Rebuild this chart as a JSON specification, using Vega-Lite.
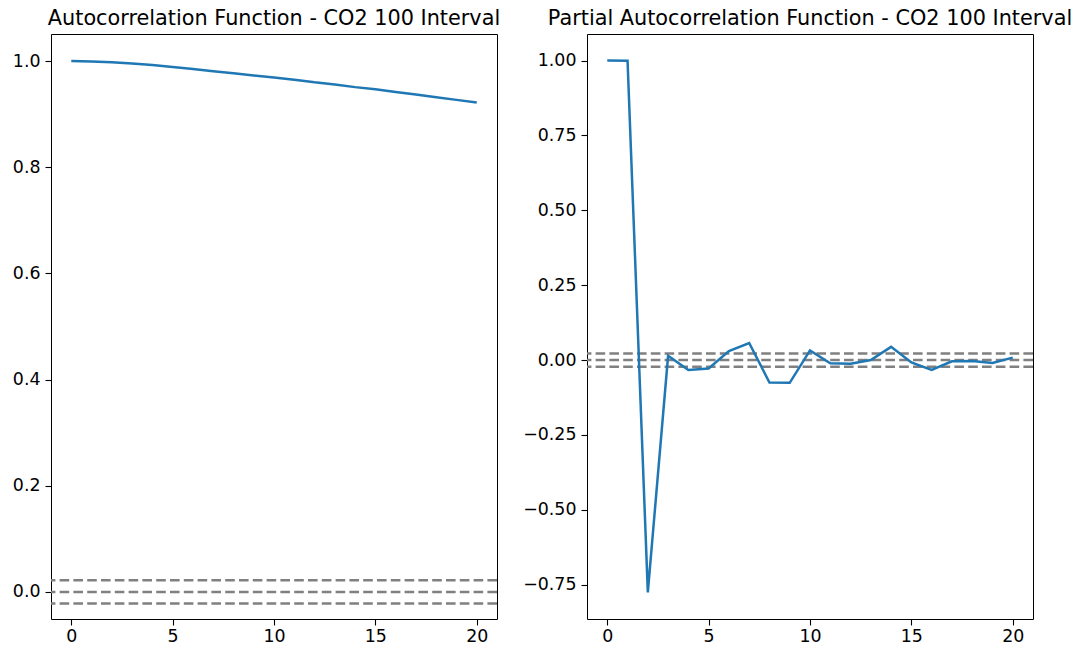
{
  "$schema": "https://vega.github.io/schema/vega-lite/v6.json",
  "background": "white",
  "padding": {"left": 11, "top": 7, "right": 5, "bottom": 5},
  "config": {
    "font": "DejaVu Sans",
    "view": {"stroke": "black", "strokeWidth": 1},
    "axis": {
      "grid": false,
      "domain": false,
      "ticks": true,
      "tickColor": "black",
      "tickSize": 6,
      "tickWidth": 1.1,
      "labelFont": "DejaVu Sans",
      "labelFontSize": 17.4,
      "labelColor": "black",
      "labelPadding": 5,
      "title": null
    },
    "axisX": {"labelPadding": 2},
    "title": {
      "font": "DejaVu Sans",
      "fontSize": 20.8,
      "fontWeight": "normal",
      "color": "black",
      "offset": 4,
      "anchor": "middle"
    }
  },
  "datasets": {
    "acf": [
      {"lag": 0, "value": 1.0},
      {"lag": 1, "value": 0.9995},
      {"lag": 2, "value": 0.998},
      {"lag": 3, "value": 0.9955},
      {"lag": 4, "value": 0.9925},
      {"lag": 5, "value": 0.989},
      {"lag": 6, "value": 0.985},
      {"lag": 7, "value": 0.981},
      {"lag": 8, "value": 0.977},
      {"lag": 9, "value": 0.973},
      {"lag": 10, "value": 0.969},
      {"lag": 11, "value": 0.965},
      {"lag": 12, "value": 0.96},
      {"lag": 13, "value": 0.956},
      {"lag": 14, "value": 0.951},
      {"lag": 15, "value": 0.947},
      {"lag": 16, "value": 0.942},
      {"lag": 17, "value": 0.937},
      {"lag": 18, "value": 0.932},
      {"lag": 19, "value": 0.927},
      {"lag": 20, "value": 0.922}
    ],
    "pacf": [
      {"lag": 0, "value": 1.0},
      {"lag": 1, "value": 0.9998},
      {"lag": 2, "value": -0.776},
      {"lag": 3, "value": 0.014},
      {"lag": 4, "value": -0.033},
      {"lag": 5, "value": -0.028},
      {"lag": 6, "value": 0.03},
      {"lag": 7, "value": 0.057},
      {"lag": 8, "value": -0.075},
      {"lag": 9, "value": -0.076},
      {"lag": 10, "value": 0.032},
      {"lag": 11, "value": -0.011},
      {"lag": 12, "value": -0.012},
      {"lag": 13, "value": 0.0},
      {"lag": 14, "value": 0.044},
      {"lag": 15, "value": -0.008},
      {"lag": 16, "value": -0.033},
      {"lag": 17, "value": -0.004},
      {"lag": 18, "value": -0.003},
      {"lag": 19, "value": -0.01},
      {"lag": 20, "value": 0.008}
    ],
    "bounds": [
      {"level": 0.022},
      {"level": 0.0},
      {"level": -0.022}
    ]
  },
  "bounds": "flush",
  "spacing": 90,
  "hconcat": [
    {
      "title": "Autocorrelation Function - CO2 100 Interval",
      "width": 446,
      "height": 585,
      "layer": [
        {
          "data": {"name": "bounds"},
          "mark": {"type": "rule", "color": "#808080", "strokeWidth": 2.5, "strokeDash": [9.6, 4.2]},
          "encoding": {
            "y": {"field": "level", "type": "quantitative", "scale": {"domain": [-0.0511, 1.0511], "nice": false, "zero": false}}
          }
        },
        {
          "data": {"name": "acf"},
          "mark": {"type": "line", "color": "#1f77b4", "strokeWidth": 2.5},
          "encoding": {
            "x": {"field": "lag", "type": "quantitative", "scale": {"domain": [-1, 21], "nice": false, "zero": false}, "axis": {"values": [0, 5, 10, 15, 20], "format": "d"}},
            "y": {"field": "value", "type": "quantitative", "axis": {"values": [0, 0.2, 0.4, 0.6, 0.8, 1.0], "format": ".1f"}}
          }
        }
      ]
    },
    {
      "title": "Partial Autocorrelation Function - CO2 100 Interval",
      "width": 446,
      "height": 585,
      "layer": [
        {
          "data": {"name": "bounds"},
          "mark": {"type": "rule", "color": "#808080", "strokeWidth": 2.5, "strokeDash": [9.6, 4.2]},
          "encoding": {
            "y": {"field": "level", "type": "quantitative", "scale": {"domain": [-0.8648, 1.0888], "nice": false, "zero": false}}
          }
        },
        {
          "data": {"name": "pacf"},
          "mark": {"type": "line", "color": "#1f77b4", "strokeWidth": 2.5},
          "encoding": {
            "x": {"field": "lag", "type": "quantitative", "scale": {"domain": [-1, 21], "nice": false, "zero": false}, "axis": {"values": [0, 5, 10, 15, 20], "format": "d"}},
            "y": {"field": "value", "type": "quantitative", "axis": {"values": [-0.75, -0.5, -0.25, 0, 0.25, 0.5, 0.75, 1.0], "format": ".2f"}}
          }
        }
      ]
    }
  ]
}
